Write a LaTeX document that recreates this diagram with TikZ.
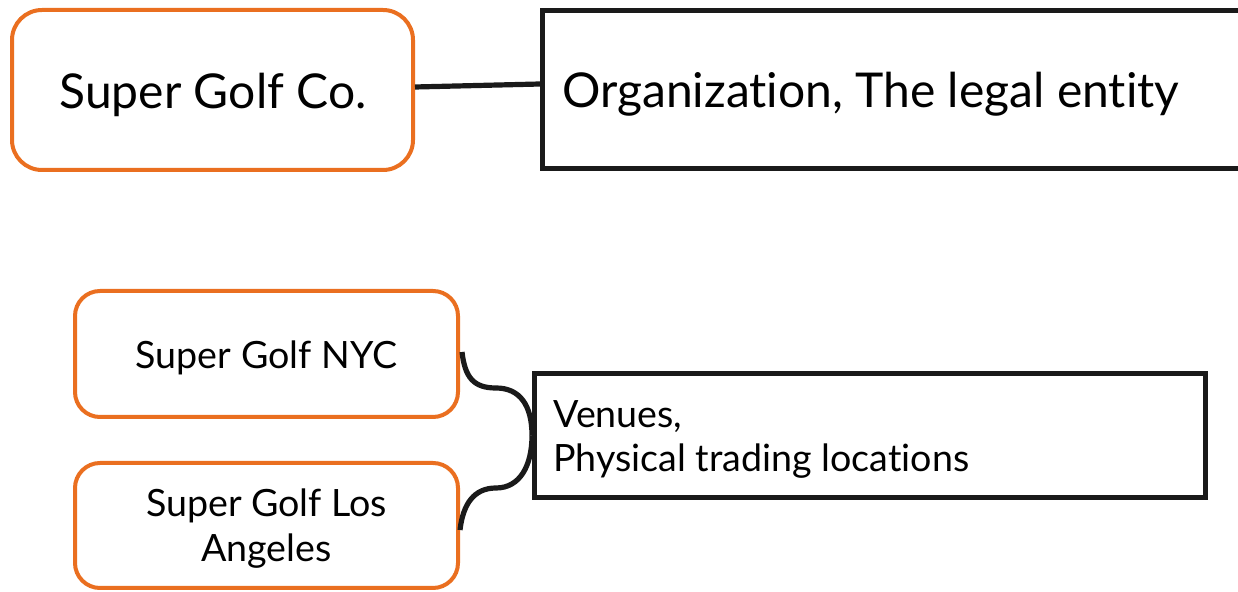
\documentclass[tikz,border=0pt]{standalone}
\usepackage{fontspec}
\setmainfont[Ligatures=CommonOff]{Lato}
\definecolor{orgorange}{RGB}{234,111,32}
\definecolor{boxblack}{RGB}{26,26,26}
\begin{document}
\begin{tikzpicture}[x=0.5pt,y=-0.5pt,
  orgbox/.style={draw=orgorange,line width=2pt,rounded corners=#1,inner sep=0pt},
  orgbox/.default=14pt,
  blkbox/.style={draw=boxblack,line width=2.5pt,inner sep=0pt},
  conn/.style={draw=boxblack,line width=2.6pt},
  bigtext/.style={font=\fontsize{24}{29}\selectfont,inner sep=0pt,text=black},
  smalltext/.style={font=\fontsize{18.8}{22}\selectfont,inner sep=0pt,text=black}
]
\useasboundingbox (0,0) rectangle (1238,592);
% top row
\node[orgbox=15pt,minimum width=200.5pt,minimum height=80pt] (A) at (212.5,90) {};
\node[blkbox,minimum width=378pt,minimum height=79pt] (B) at (920.75,89.5) {};
\node[bigtext,anchor=base] (Atext) at (213,109) {Super Golf Co.};
\node[bigtext,anchor=base west] (Btext) at (562,108) {Organization, The legal entity};
\draw[conn] ([yshift=1.5pt]A.east) -- ([yshift=2.75pt]B.west);
% bottom row
\node[orgbox=12.5pt,minimum width=191.5pt,minimum height=63pt] (C) at (266.5,354) {};
\node[orgbox=12.5pt,minimum width=191.5pt,minimum height=62.5pt] (D) at (266.5,525.5) {};
\node[blkbox,minimum width=335.5pt,minimum height=62pt] (E) at (870,435.5) {};
\node[smalltext,anchor=base] (Ctext) at (266.5,369) {Super Golf NYC};
\node[smalltext,anchor=base] (Dtext1) at (266.5,517) {Super Golf Los};
\node[smalltext,anchor=base] (Dtext2) at (266.5,562) {Angeles};
\node[smalltext,anchor=base west] (Etext1) at (553,428) {Venues,};
\node[smalltext,anchor=base west] (Etext2) at (553,472) {Physical trading locations};
% brace connector
\coordinate (m1) at (496,388);
\coordinate (m2) at (496,488);
\draw[conn] ([yshift=1pt,xshift=1pt]C.east) .. controls +(3,26) and +(-22,0) .. (m1)
  .. controls +(24,0) and +(0,-30) .. (E.west);
\draw[conn] ([yshift=-2.25pt]D.east) .. controls +(3,-26) and +(-22,0) .. (m2)
  .. controls +(24,0) and +(0,30) .. (E.west);
\end{tikzpicture}
\end{document}
